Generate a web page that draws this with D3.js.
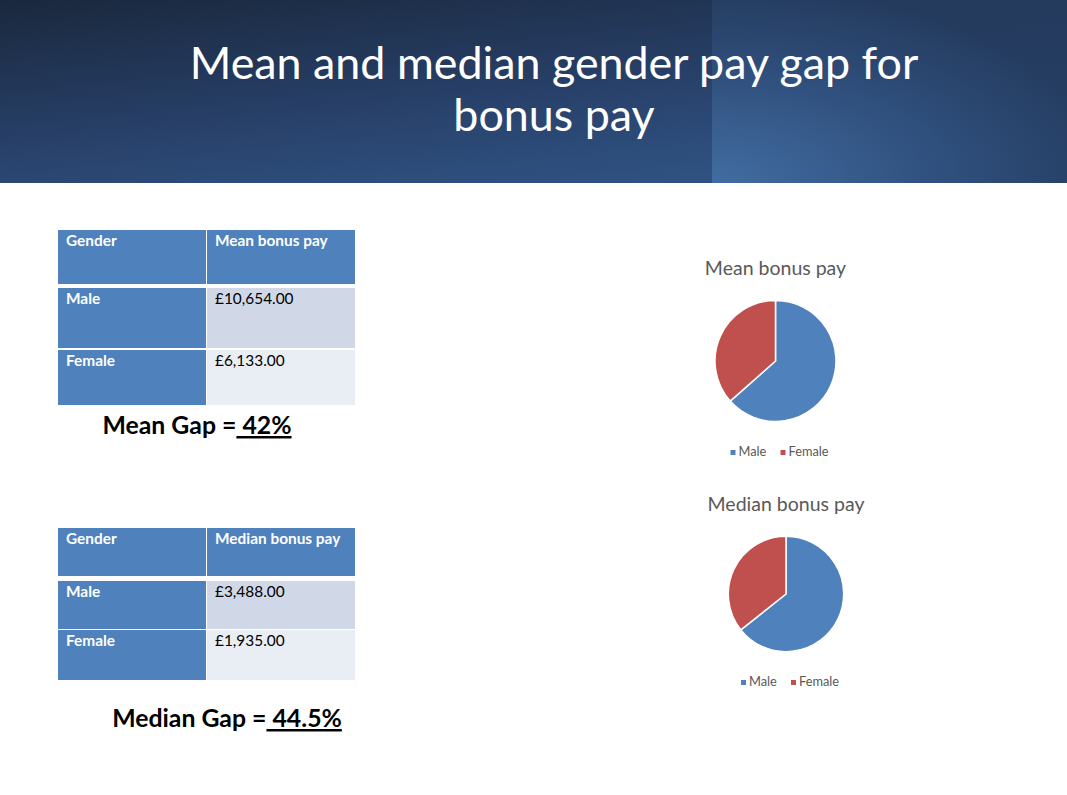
<!DOCTYPE html>
<html>
<head>
<meta charset="utf-8">
<script src="https://cdn.jsdelivr.net/npm/d3@7"></script>
<style>
  html, body { margin: 0; padding: 0; background: #fff; }
  svg { display: block; }
</style>
</head>
<body>
<div id="chart"></div>
<script>
// data
const genders = ["Male", "Female"];
const meanBonus = [10654, 6133];
const medianBonus = [3488, 1935];
const meanGap = "42%";
const medianGap = "44.5%";
const titleLines = ["Mean and median gender pay gap for", "bonus pay"];

const width = 1067;
const height = 795;
const font = "Lato, 'Open Sans', sans-serif";
const blue = "#4f81bd";
const red = "#c0504d";

const svg = d3.select("#chart").append("svg")
  .attr("width", width)
  .attr("height", height)
  .attr("viewBox", [0, 0, width, height]);

const defs = svg.append("defs");

// header background
const hg = defs.append("linearGradient").attr("id", "hdr")
  .attr("x1", 0).attr("y1", 0).attr("x2", 0.6).attr("y2", 1);
hg.append("stop").attr("offset", 0).attr("stop-color", "#1a283d");
hg.append("stop").attr("offset", 0.6).attr("stop-color", "#28416a");
hg.append("stop").attr("offset", 1).attr("stop-color", "#2f5282");

const pg = defs.append("radialGradient").attr("id", "panel")
  .attr("cx", 0).attr("cy", 1).attr("r", 1.1);
pg.append("stop").attr("offset", 0).attr("stop-color", "#4571a7");
pg.append("stop").attr("offset", 0.6).attr("stop-color", "#2f4f7c");
pg.append("stop").attr("offset", 1).attr("stop-color", "#243b5e");

const header = svg.append("g");
header.append("rect").attr("width", width).attr("height", 183).attr("fill", "url(#hdr)");
header.append("rect").attr("x", 712).attr("width", width - 712).attr("height", 183)
  .attr("fill", "url(#panel)").attr("opacity", 0.85);

header.selectAll("text")
  .data(titleLines)
  .join("text")
  .attr("x", 554)
  .attr("y", (d, i) => 79 + i * 52)
  .attr("text-anchor", "middle")
  .attr("fill", "#fff")
  .attr("font-family", font)
  .attr("font-size", 44.8)
  .text(d => d);

// tables
function drawTable(g, valueLabel, values, rowYs, rowHs) {
  const x0 = 58, c1 = 206, x1 = 355;
  const rows = [["Gender", valueLabel]].concat(
    genders.map((d, i) => [d, "£" + d3.format(",.2f")(values[i])])
  );
  const fills = [[blue, blue], [blue, "#d0d8e8"], [blue, "#e9edf4"]];

  const row = g.selectAll("g.row")
    .data(rows)
    .join("g")
    .attr("class", "row")
    .attr("transform", (d, i) => `translate(0,${rowYs[i]})`);

  row.selectAll("rect")
    .data((d, i) => d.map((v, j) => ({ v, i, j })))
    .join("rect")
    .attr("x", d => d.j === 0 ? x0 : c1 + 1)
    .attr("width", d => d.j === 0 ? c1 - x0 : x1 - c1 - 1)
    .attr("height", d => rowHs[d.i])
    .attr("fill", d => fills[d.i][d.j]);

  row.selectAll("text")
    .data((d, i) => d.map((v, j) => ({ v, i, j })))
    .join("text")
    .attr("x", d => d.j === 0 ? 66 : 215)
    .attr("y", 16)
    .attr("font-family", font)
    .attr("font-size", 15.4)
    .attr("font-weight", d => (d.i === 0 || d.j === 0) ? "bold" : "normal")
    .attr("fill", d => (d.i === 0 || d.j === 0) ? "#fff" : "#000")
    .text(d => d.v);
}

drawTable(svg.append("g"), "Mean bonus pay", meanBonus, [230, 288, 350], [54, 60, 55]);
drawTable(svg.append("g"), "Median bonus pay", medianBonus, [528, 581, 630], [48, 48, 50]);

// gap lines
function drawGap(label, value, cx, y) {
  const t = svg.append("text")
    .attr("x", cx)
    .attr("y", y)
    .attr("text-anchor", "middle")
    .attr("font-family", font)
    .attr("font-size", 24.8)
    .attr("font-weight", "bold")
    .attr("fill", "#000");
  t.append("tspan").text(label + " =");
  t.append("tspan").style("text-decoration", "underline")
    .text("\u00a0" + value);
}
drawGap("Mean Gap", meanGap, 197, 434);
drawGap("Median Gap", medianGap, 227, 727);

// pies
const color = d3.scaleOrdinal().domain(genders).range([blue, red]);
const pie = d3.pie().sort(null).value(d => d.v);

function drawPie(title, values, cx, cy, r, titleY, legendY) {
  const g = svg.append("g");
  g.append("text")
    .attr("x", cx)
    .attr("y", titleY)
    .attr("text-anchor", "middle")
    .attr("font-family", font)
    .attr("font-size", 19.5)
    .attr("fill", "#595959")
    .text(title);

  const arc = d3.arc().innerRadius(0).outerRadius(r);
  g.append("g")
    .attr("transform", `translate(${cx},${cy})`)
    .selectAll("path")
    .data(pie(genders.map((k, i) => ({ k, v: values[i] }))))
    .join("path")
    .attr("d", arc)
    .attr("fill", d => color(d.data.k))
    .attr("stroke", "#fff")
    .attr("stroke-width", 1.5);

  const legend = g.append("g")
    .attr("transform", `translate(${cx},${legendY})`)
    .selectAll("g")
    .data(genders)
    .join("g")
    .attr("transform", (d, i) => `translate(${i === 0 ? -45 : 5},0)`);
  legend.append("rect")
    .attr("x", 0).attr("y", -6)
    .attr("width", 5).attr("height", 5)
    .attr("fill", d => color(d));
  legend.append("text")
    .attr("x", 8)
    .attr("y", 0)
    .attr("font-family", font)
    .attr("font-size", 12.8)
    .attr("fill", "#595959")
    .text(d => d);
}

drawPie("Mean bonus pay", meanBonus, 775.5, 361, 60.5, 275, 456);
drawPie("Median bonus pay", medianBonus, 786, 594, 57.7, 511, 686);
</script>
</body>
</html>
